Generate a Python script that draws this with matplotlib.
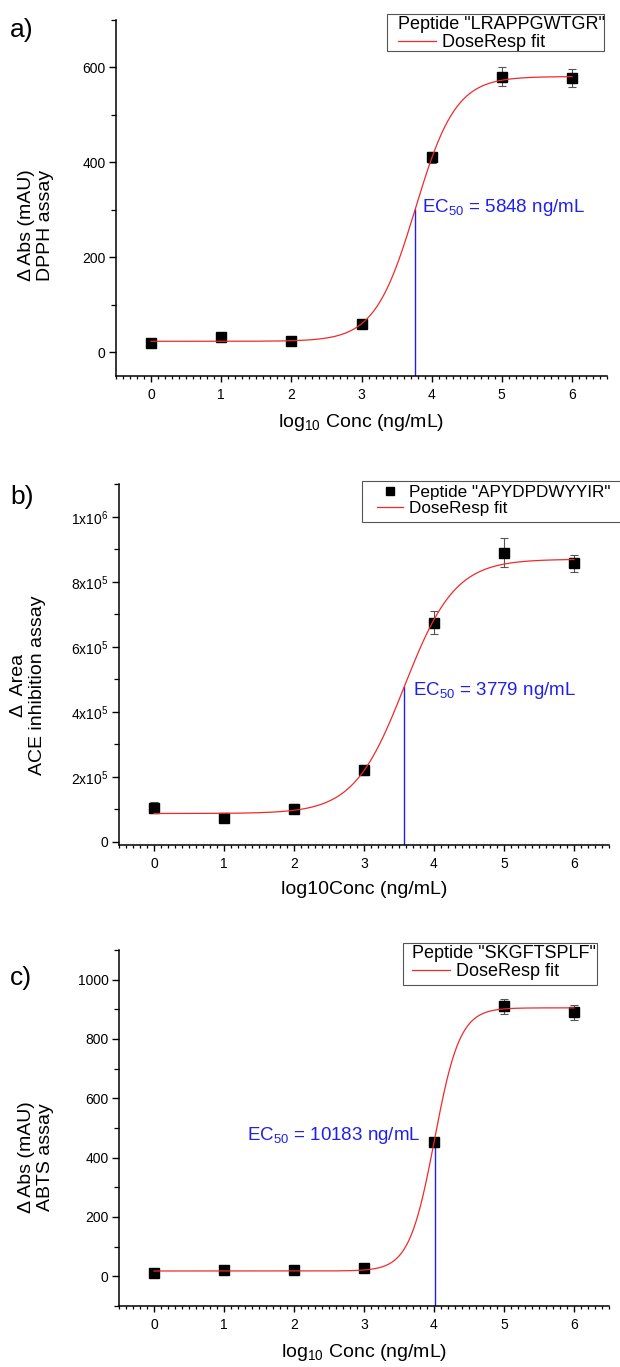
import numpy as np
import matplotlib
matplotlib.use("Agg")
import matplotlib.pyplot as plt
from matplotlib.ticker import MultipleLocator, FuncFormatter
from matplotlib.lines import Line2D
from matplotlib.patches import Rectangle

plt.rcParams.update({
    "font.family": ["Liberation Sans", "DejaVu Sans"],
    "mathtext.fontset": "custom",
    "mathtext.rm": "Liberation Sans",
    "mathtext.it": "Liberation Sans:italic",
    "mathtext.bf": "Liberation Sans:bold",
    "mathtext.default": "regular",
    "axes.linewidth": 1.1,
})

# ---- data -------------------------------------------------------------
log_conc = [0, 1, 2, 3, 4, 5, 6]

dpph_mean = [20, 33, 24, 60, 410, 580, 577]
dpph_err = [4, 4, 3, 5, 12, 20, 18]
dpph_bottom, dpph_top, dpph_slope = 23, 580, 1.5
dpph_ec50 = 5848

ace_mean = [1.05e5, 0.72e5, 1.02e5, 2.22e5, 6.75e5, 8.90e5, 8.58e5]
ace_err = [1.6e4, 1.1e4, 1.5e4, 1.5e4, 3.5e4, 4.5e4, 2.6e4]
ace_bottom, ace_top, ace_slope = 0.87e5, 8.70e5, 1.2
ace_ec50 = 3779

abts_mean = [12, 22, 20, 27, 452, 910, 890]
abts_err = [4, 4, 4, 10, 15, 25, 25]
abts_bottom, abts_top, abts_slope = 18, 905, 2.4
abts_ec50 = 10183

W, H = 620, 1367
RED = "#f02a2a"
BLUE = "#2020ee"


def dose_resp(x, a1, a2, p, ec50):
    return a1 + (a2 - a1) / (1.0 + 10 ** ((np.log10(ec50) - x) * p))


def rect(left, top, right, bottom):
    return [left / W, 1 - bottom / H, (right - left) / W, (bottom - top) / H]


def sci_fmt(v, _pos):
    if v == 0:
        return "0"
    e = int(np.floor(np.log10(abs(v)) + 1e-9))
    m = v / 10 ** e
    return f"{m:g}x10$^{{{e}}}$"


def panel(ax, mean, err, a1, a2, p, ec50, ylim, ymajor, yminor,
          xlabel, ylabel, ylabel_xy, letter, letter_xy,
          peptide, legend_xy, legend_box, legend_fs, show_marker,
          ec_offset, ec_ha, yfmt=None):
    fig = ax.figure
    x = np.array(log_conc, dtype=float)
    ax.errorbar(x, mean, yerr=err, fmt="s", color="black", ms=6.5,
                ecolor="#555555", elinewidth=0.8, capsize=3, capthick=0.8,
                zorder=2)
    xs = np.linspace(x.min(), x.max(), 400)
    fit_line, = ax.plot(xs, dose_resp(xs, a1, a2, p, ec50), color=RED,
                        lw=0.9, zorder=3)

    lx = np.log10(ec50)
    mid = dose_resp(lx, a1, a2, p, ec50)
    ax.vlines(lx, ylim[0], mid, color=BLUE, lw=1.0, zorder=1)
    ax.annotate(f"EC$_{{50}}$ = {ec50} ng/mL", xy=(lx, mid),
                xytext=ec_offset, textcoords="offset points",
                ha=ec_ha, va="center", color=BLUE, fontsize=13.5)

    ax.set_xlim(-0.5, 6.5)
    ax.set_ylim(*ylim)
    ax.xaxis.set_major_locator(MultipleLocator(1))
    ax.xaxis.set_minor_locator(MultipleLocator(0.1))
    ax.yaxis.set_major_locator(MultipleLocator(ymajor))
    ax.yaxis.set_minor_locator(MultipleLocator(yminor))
    if yfmt is not None:
        ax.yaxis.set_major_formatter(FuncFormatter(yfmt))
    ax.spines["top"].set_visible(False)
    ax.spines["right"].set_visible(False)
    ax.tick_params(axis="x", which="major", direction="out", length=4.5,
                   width=1.0, labelsize=10, pad=4)
    ax.tick_params(axis="x", which="minor", direction="out", length=2.5,
                   width=0.9)
    ax.tick_params(axis="y", which="major", direction="out", length=5,
                   width=1.0, labelsize=10, pad=2.5)
    ax.tick_params(axis="y", which="minor", direction="out", length=3.5,
                   width=0.9)

    ax.set_xlabel(xlabel, fontsize=14, labelpad=7)
    ax.set_ylabel(ylabel, fontsize=14, linespacing=1.12)
    ax.yaxis.label.set_va("center")
    pos = ax.get_position()
    ax.yaxis.set_label_coords((ylabel_xy[0] / W - pos.x0) / pos.width,
                              ((1 - ylabel_xy[1] / H) - pos.y0) / pos.height)

    fig.text(letter_xy[0] / W, 1 - letter_xy[1] / H, letter, fontsize=19,
             ha="center", va="center")

    # legend entries without their own frame; the box is drawn separately
    leg_kw = dict(loc="upper left",
                  bbox_to_anchor=(legend_xy[0] / W, 1 - legend_xy[1] / H),
                  bbox_transform=fig.transFigure, borderaxespad=0,
                  borderpad=0, fontsize=legend_fs, frameon=False,
                  labelspacing=0.05, handletextpad=0.35)
    if show_marker:
        marker = Line2D([], [], marker="s", color="black", ls="none", ms=6)
        leg = ax.legend([marker, fit_line],
                        [f'Peptide "{peptide}"', "DoseResp fit"],
                        handlelength=1.5, **leg_kw)
    else:
        leg = ax.legend([fit_line], ["DoseResp fit"],
                        title=f'Peptide "{peptide}"', title_fontsize=legend_fs,
                        alignment="left", handlelength=2.1, **leg_kw)
    leg.set_zorder(6)
    bx0, by0, bx1, by1 = legend_box
    box = Rectangle((bx0 / W, 1 - by1 / H), (bx1 - bx0) / W, (by1 - by0) / H,
                    transform=fig.transFigure, facecolor="white",
                    edgecolor="#555555", lw=0.8, clip_on=False, zorder=5)
    ax.add_artist(box)


fig = plt.figure(figsize=(W / 100, H / 100), dpi=100)

ax_a = fig.add_axes(rect(116, 19.5, 607, 376))
panel(ax_a, dpph_mean, dpph_err, dpph_bottom, dpph_top, dpph_slope, dpph_ec50,
      ylim=(-50, 700), ymajor=200, yminor=100,
      xlabel="log$_{10}$ Conc (ng/mL)",
      ylabel="\u0394 Abs (mAU)\nDPPH assay", ylabel_xy=(36, 225),
      letter="a)", letter_xy=(22, 30),
      peptide="LRAPPGWTGR", legend_xy=(398, 16), legend_box=(387, 14, 604, 51),
      legend_fs=13, show_marker=False, ec_offset=(5, 1), ec_ha="left")

ax_b = fig.add_axes(rect(119, 484.5, 609, 845))
panel(ax_b, ace_mean, ace_err, ace_bottom, ace_top, ace_slope, ace_ec50,
      ylim=(-1e4, 1.1e6), ymajor=2e5, yminor=1e5,
      xlabel="log10Conc (ng/mL)",
      ylabel="\u0394  Area\nACE inhibition assay", ylabel_xy=(28, 685),
      letter="b)", letter_xy=(22, 497),
      peptide="APYDPDWYYIR", legend_xy=(377, 485),
      legend_box=(362, 481, 640, 522), legend_fs=12.3,
      show_marker=True, ec_offset=(6.5, -3), ec_ha="left", yfmt=sci_fmt)

ax_c = fig.add_axes(rect(119, 950, 609, 1306))
panel(ax_c, abts_mean, abts_err, abts_bottom, abts_top, abts_slope, abts_ec50,
      ylim=(-100, 1100), ymajor=200, yminor=100,
      xlabel="log$_{10}$ Conc (ng/mL)",
      ylabel="\u0394 Abs (mAU)\nABTS assay", ylabel_xy=(36, 1157),
      letter="c)", letter_xy=(21, 978),
      peptide="SKGFTSPLF", legend_xy=(412, 945),
      legend_box=(403, 943, 597, 985), legend_fs=13,
      show_marker=False, ec_offset=(-10, 3), ec_ha="right")

fig.savefig("out.png", dpi=100)
